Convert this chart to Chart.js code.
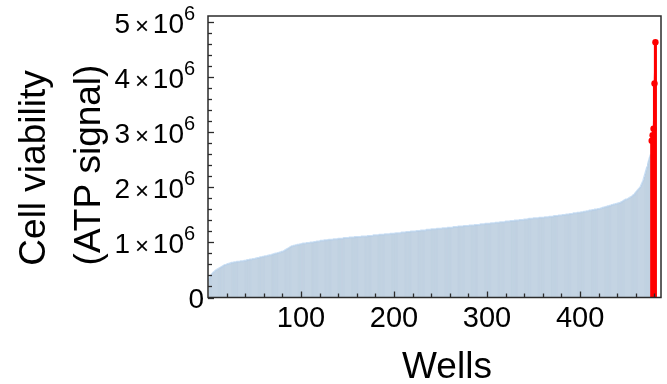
<!DOCTYPE html>
<html>
<head>
<meta charset="utf-8">
<script src="https://cdn.jsdelivr.net/npm/chart.js@4/dist/chart.umd.min.js"></script>
<style>
  html, body { margin: 0; padding: 0; background: #ffffff; }
  #wrap { width: 667px; height: 384px; }
</style>
</head>
<body>
<div id="wrap"><canvas id="c" width="667" height="384"></canvas></div>
<script>
// ---- Data (cell viability, ATP signal, in units of 10^6), sorted by well ----
const blueSignal = [
  0.30,0.36,0.40,0.42,0.44,0.46,0.47,0.49,0.50,0.51,
  0.52,0.53,0.54,0.55,0.56,0.57,0.58,0.59,0.59,0.60,
  0.61,0.61,0.62,0.62,0.63,0.63,0.63,0.64,0.64,0.64,
  0.65,0.65,0.65,0.65,0.66,0.66,0.66,0.66,0.67,0.67,
  0.67,0.68,0.68,0.68,0.69,0.69,0.69,0.70,0.70,0.70,
  0.71,0.71,0.72,0.72,0.72,0.73,0.73,0.73,0.74,0.74,
  0.75,0.75,0.75,0.76,0.76,0.77,0.77,0.77,0.78,0.78,
  0.79,0.79,0.80,0.80,0.81,0.81,0.82,0.82,0.83,0.83,
  0.84,0.85,0.86,0.87,0.88,0.89,0.90,0.91,0.92,0.93,
  0.93,0.94,0.94,0.95,0.95,0.96,0.96,0.96,0.97,0.97,
  0.97,0.98,0.98,0.98,0.98,0.99,0.99,0.99,0.99,1.00,
  1.00,1.00,1.00,1.01,1.01,1.01,1.02,1.02,1.02,1.02,
  1.03,1.03,1.03,1.03,1.04,1.04,1.04,1.04,1.04,1.05,
  1.05,1.05,1.05,1.05,1.06,1.06,1.06,1.06,1.06,1.07,
  1.07,1.07,1.07,1.07,1.07,1.08,1.08,1.08,1.08,1.08,
  1.08,1.09,1.09,1.09,1.09,1.09,1.09,1.10,1.10,1.10,
  1.10,1.10,1.10,1.10,1.11,1.11,1.11,1.11,1.11,1.11,
  1.11,1.12,1.12,1.12,1.12,1.12,1.12,1.13,1.13,1.13,
  1.13,1.13,1.13,1.14,1.14,1.14,1.14,1.14,1.14,1.15,
  1.15,1.15,1.15,1.15,1.15,1.16,1.16,1.16,1.16,1.16,
  1.16,1.17,1.17,1.17,1.17,1.17,1.17,1.18,1.18,1.18,
  1.18,1.18,1.19,1.19,1.19,1.19,1.19,1.20,1.20,1.20,
  1.20,1.20,1.20,1.21,1.21,1.21,1.21,1.21,1.22,1.22,
  1.22,1.22,1.22,1.22,1.23,1.23,1.23,1.23,1.23,1.24,
  1.24,1.24,1.24,1.24,1.24,1.25,1.25,1.25,1.25,1.25,
  1.25,1.26,1.26,1.26,1.26,1.26,1.26,1.27,1.27,1.27,
  1.27,1.27,1.27,1.28,1.28,1.28,1.28,1.28,1.29,1.29,
  1.29,1.29,1.29,1.29,1.30,1.30,1.30,1.30,1.30,1.30,
  1.31,1.31,1.31,1.31,1.31,1.31,1.32,1.32,1.32,1.32,
  1.32,1.32,1.33,1.33,1.33,1.33,1.33,1.34,1.34,1.34,
  1.34,1.34,1.34,1.35,1.35,1.35,1.35,1.35,1.36,1.36,
  1.36,1.36,1.36,1.37,1.37,1.37,1.37,1.37,1.37,1.38,
  1.38,1.38,1.38,1.38,1.39,1.39,1.39,1.39,1.39,1.40,
  1.40,1.40,1.40,1.40,1.41,1.41,1.41,1.41,1.41,1.42,
  1.42,1.42,1.42,1.42,1.43,1.43,1.43,1.43,1.43,1.44,
  1.44,1.44,1.44,1.44,1.44,1.45,1.45,1.45,1.45,1.45,
  1.45,1.46,1.46,1.46,1.46,1.46,1.47,1.47,1.47,1.47,
  1.47,1.48,1.48,1.48,1.48,1.48,1.49,1.49,1.49,1.49,
  1.50,1.50,1.50,1.50,1.51,1.51,1.51,1.51,1.52,1.52,
  1.52,1.52,1.53,1.53,1.53,1.53,1.54,1.54,1.54,1.54,
  1.55,1.55,1.55,1.56,1.56,1.56,1.57,1.57,1.57,1.58,
  1.58,1.58,1.59,1.59,1.59,1.60,1.60,1.60,1.61,1.61,
  1.61,1.62,1.62,1.63,1.63,1.64,1.64,1.65,1.65,1.66,
  1.66,1.67,1.67,1.68,1.68,1.69,1.69,1.70,1.70,1.71,
  1.71,1.72,1.72,1.73,1.74,1.75,1.76,1.77,1.78,1.78,
  1.79,1.80,1.81,1.82,1.83,1.84,1.86,1.87,1.89,1.91,
  1.93,1.95,1.97,1.99,2.01,2.05,2.09,2.13,2.19,2.25,
  2.31,2.37,2.43,2.49,2.55,2.60
];
const redSignal = [2.85, 2.95, 3.07, 3.89, 4.64];
const xTickLabels = [100, 200, 300, 400];
const yTickValues = [0, 1, 2, 3, 4, 5];
const yExponent = '6';
const xTitle = 'Wells';
const yTitleLines = ['Cell viability', '(ATP signal)'];

// well numbers (categories)
const blueWells = blueSignal.map((_, i) => i + 1);
const redWells = redSignal.map((_, i) => blueSignal.length + i + 1);
const bluePts = blueSignal.map((v, i) => ({ x: blueWells[i], y: v }));
const redPts = redSignal.map((v, i) => ({ x: redWells[i], y: v }));

const FONT = "'Liberation Sans', Arial, Helvetica, sans-serif";

const decorPlugin = {
  id: 'decor',
  afterDraw(chart) {
    const ctx = chart.ctx;
    const a = chart.chartArea;
    const xs = chart.scales.x, ys = chart.scales.y;
    ctx.save();
    // frame
    ctx.strokeStyle = '#2b2b2b';
    ctx.lineWidth = 1.5;
    ctx.strokeRect(a.left, a.top, a.right - a.left, a.bottom - a.top);
    // inward ticks on y (minor every 0.2, major every 1)
    ctx.lineWidth = 1.3;
    for (let k = 0; k <= 25; k++) {
      const v = k / 5;
      const y = Math.round(ys.getPixelForValue(v)) + 0.5;
      if (y < a.top + 1) continue;
      const len = (k % 5 === 0) ? 6 : 4;
      ctx.beginPath(); ctx.moveTo(a.left, y); ctx.lineTo(a.left + len, y); ctx.stroke();
    }
    // inward ticks on x (minor every 20, major every 100)
    for (let w = 20; w < xs.max; w += 20) {
      const x = Math.round(xs.getPixelForValue(w)) + 0.5;
      const len = (w % 100 === 0) ? 6 : 4;
      ctx.beginPath(); ctx.moveTo(x, a.bottom); ctx.lineTo(x, a.bottom - len); ctx.stroke();
    }
    // y tick labels with superscript exponent
    ctx.fillStyle = '#000';
    for (const v of yTickValues) {
      const y = ys.getPixelForValue(v);
      ctx.textBaseline = 'alphabetic';
      if (v === 0) {
        ctx.font = '28px ' + FONT;
        ctx.textAlign = 'right';
        ctx.fillText('0', 204, y + 10.5);
        continue;
      }
      ctx.font = '20px ' + FONT;
      ctx.textAlign = 'left';
      ctx.fillText(yExponent, 184, y - 2.5);
      ctx.font = '28px ' + FONT;
      ctx.textAlign = 'right';
      ctx.fillText('10', 184, y + 10.5);
      ctx.font = '24px ' + FONT;
      ctx.textAlign = 'center';
      ctx.textBaseline = 'middle';
      ctx.fillText('\u00d7', 142, y + 4.5);
      ctx.font = '28px ' + FONT;
      ctx.textAlign = 'right';
      ctx.textBaseline = 'alphabetic';
      ctx.fillText(String(v), 130, y + 10.5);
    }
    // axis titles
    ctx.font = '37px ' + FONT;
    ctx.textAlign = 'center';
    ctx.textBaseline = 'alphabetic';
    ctx.fillText(xTitle, 447, 378);
    ctx.save();
    ctx.translate(45, 168);
    ctx.rotate(-Math.PI / 2);
    ctx.fillText(yTitleLines[0], 0, 0);
    ctx.restore();
    ctx.save();
    ctx.translate(100, 165);
    ctx.rotate(-Math.PI / 2);
    ctx.fillText(yTitleLines[1], 0, 0);
    ctx.restore();
    ctx.restore();
  }
};

new Chart(document.getElementById('c'), {
  type: 'line',
  data: {
    datasets: [
      {
        type: 'line', label: 'hits', data: redPts, order: 0,
        borderColor: '#ff0000', backgroundColor: '#ff0000',
        borderWidth: 1.5, pointRadius: 3.2, pointHoverRadius: 3.2,
        pointBackgroundColor: '#ff0000', pointBorderWidth: 0, tension: 0, fill: false
      },
      {
        type: 'bar', label: 'hits stems', data: redPts, order: 1,
        backgroundColor: '#ff0000', barThickness: 2.4, grouped: false, borderWidth: 0
      },
      {
        type: 'bar', label: 'wells stems', data: bluePts, order: 2,
        backgroundColor: 'rgba(120,145,170,0.38)', barThickness: 0.5, inflateAmount: 0,
        grouped: false, borderWidth: 0
      },
      {
        type: 'line', label: 'wells', data: bluePts, order: 3,
        borderColor: '#cbe0f5', backgroundColor: '#d5e4f1',
        borderWidth: 2, pointRadius: 0, tension: 0, fill: 'origin'
      }
    ]
  },
  options: {
    responsive: false,
    animation: false,
    devicePixelRatio: 1,
    layout: { padding: { top: 16, right: 6, left: 0, bottom: 0 } },
    plugins: { legend: { display: false }, tooltip: { enabled: false } },
    scales: {
      x: {
        type: 'linear', min: 0, max: 487, offset: false,
        grid: { display: false, drawTicks: false },
        border: { display: false },
        afterFit(scale) { scale.height = 86.5; },
        afterBuildTicks(scale) { scale.ticks = xTickLabels.map(v => ({ value: v })); },
        ticks: {
          autoSkip: false, maxRotation: 0, padding: 4, color: '#000',
          font: { family: FONT, size: 29 },
          callback: (v) => String(v)
        }
      },
      y: {
        type: 'linear', min: 0, max: 5.118,
        grid: { display: false, drawTicks: false },
        border: { display: false },
        afterFit(scale) { scale.width = 208; },
        afterBuildTicks(scale) { scale.ticks = yTickValues.map(v => ({ value: v })); },
        ticks: { display: false }
      }
    }
  },
  plugins: [decorPlugin]
});
</script>
</body>
</html>
